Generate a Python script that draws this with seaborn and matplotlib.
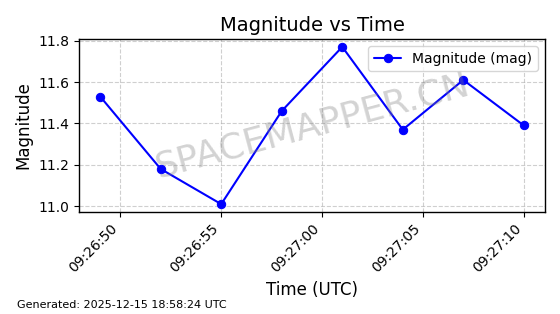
import matplotlib
matplotlib.use("Agg")
import matplotlib.pyplot as plt
import matplotlib.dates as mdates
import seaborn as sns
import pandas as pd

times = ["2025-12-15 09:26:49", "2025-12-15 09:26:52", "2025-12-15 09:26:55",
         "2025-12-15 09:26:58", "2025-12-15 09:27:01", "2025-12-15 09:27:04",
         "2025-12-15 09:27:07", "2025-12-15 09:27:10"]
magnitudes = [11.53, 11.18, 11.01, 11.46, 11.77, 11.37, 11.61, 11.39]

df = pd.DataFrame({"time": pd.to_datetime(times), "mag": magnitudes})

sns.set_style("ticks")
plt.rcParams['font.family'] = ['DejaVu Sans']
for k in ["text.color", "axes.labelcolor", "xtick.color", "ytick.color", "axes.edgecolor"]:
    plt.rcParams[k] = "black"

fig = plt.figure(figsize=(5.6, 3.14), dpi=100)
ax = fig.add_axes([79/560, 1 - 212/314, (545-79)/560, (212-39)/314])

sns.lineplot(data=df, x="time", y="mag", ax=ax, color="blue", marker="o",
             markersize=6, markeredgecolor="blue", linewidth=1.5,
             label="Magnitude (mag)")

ax.set_title("Magnitude vs Time", fontsize=14)
ax.set_xlabel("Time (UTC)", fontsize=12)
ax.set_ylabel("Magnitude", fontsize=12)
ax.xaxis.set_major_locator(mdates.SecondLocator(bysecond=range(0, 60, 5)))
ax.xaxis.set_major_formatter(mdates.DateFormatter("%H:%M:%S"))
plt.setp(ax.get_xticklabels(), rotation=45, ha="right")
ax.set_yticks([11.0, 11.2, 11.4, 11.6, 11.8])
ax.grid(True, linestyle="--", color="#b0b0b0", linewidth=0.8, alpha=0.6)
ax.tick_params(labelsize=10, length=3.5, colors="black")
for s in ax.spines.values():
    s.set_color("black")
    s.set_linewidth(1.0)
ax.legend(loc="upper right", fontsize=10)

ax.text(0.5, 0.5, "SPACEMAPPER.CN", transform=ax.transAxes, fontsize=26,
        color="gray", alpha=0.35, rotation=15, ha="center", va="center")

fig.text(17/560, 1 - 305/314, "Generated: 2025-12-15 18:58:24 UTC", fontsize=8,
         ha="left", va="center")

fig.savefig("out.png", dpi=100)
